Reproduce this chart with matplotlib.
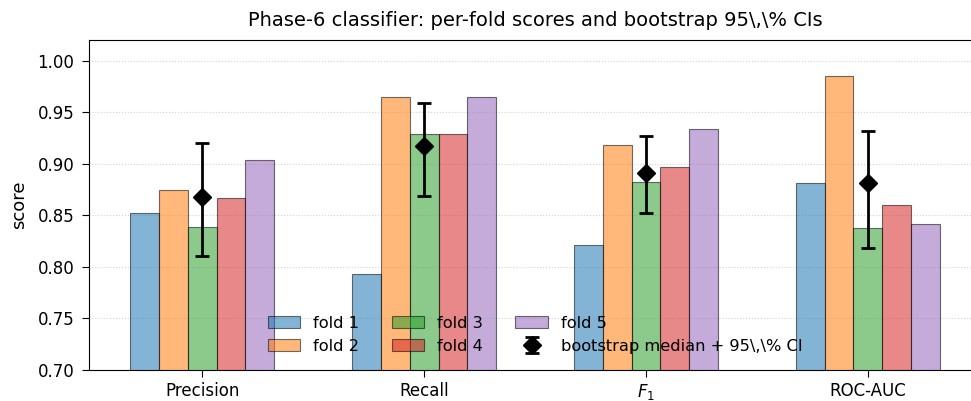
import numpy as np
import matplotlib.pyplot as plt

# ---------------------------------------------------------
# data
# ---------------------------------------------------------
METRICS = ["Precision", "Recall", r"$F_1$", "ROC-AUC"]
FOLD_NAMES = ["fold 1", "fold 2", "fold 3", "fold 4", "fold 5"]

fold1 = [0.852, 0.793, 0.821, 0.881]
fold2 = [0.875, 0.965, 0.918, 0.985]
fold3 = [0.839, 0.929, 0.882, 0.838]
fold4 = [0.867, 0.929, 0.897, 0.860]
fold5 = [0.904, 0.965, 0.934, 0.842]

boot_median = [0.868, 0.917, 0.891, 0.881]
boot_lo = [0.811, 0.869, 0.852, 0.818]
boot_hi = [0.920, 0.959, 0.927, 0.932]

FOLD_COLORS = ["tab:blue", "tab:orange", "tab:green", "tab:red", "tab:purple"]

# ---------------------------------------------------------
# plot
# ---------------------------------------------------------
fig = plt.figure(figsize=(9.71, 4.01), dpi=100)
ax = fig.add_axes([0.0917, 0.0773, 0.9186, 0.8229])

x = np.arange(len(METRICS))
width = 0.13
folds = [fold1, fold2, fold3, fold4, fold5]

for i, (vals, name, col) in enumerate(zip(folds, FOLD_NAMES, FOLD_COLORS)):
    ax.bar(x + (i - 2) * width, vals, width, label=name, color=col,
           alpha=0.55, edgecolor="black", linewidth=0.8)

med = np.array(boot_median)
yerr = np.vstack([med - np.array(boot_lo), np.array(boot_hi) - med])
ax.errorbar(x, med, yerr=yerr, fmt="D", color="black", markersize=9,
            capsize=5, elinewidth=2, capthick=2,
            label=r"bootstrap median + 95\,\% CI", zorder=5)

ax.set_xticks(x)
ax.set_xticklabels(METRICS, fontsize=12)
ax.set_xlim(-0.51, 3.51)
ax.set_ylim(0.70, 1.02)
ax.tick_params(axis="x", length=5, pad=3.5)
ax.tick_params(axis="y", length=5, pad=5.5, labelsize=12)
ax.set_ylabel("score", fontsize=13, labelpad=7)
ax.set_title(r"Phase-6 classifier: per-fold scores and bootstrap 95\,\% CIs",
             fontsize=14, pad=10)
ax.yaxis.grid(True, linestyle=":", color="lightgray", linewidth=0.8)
ax.set_axisbelow(True)

ax.legend(ncol=3, loc="lower center", bbox_to_anchor=(0.5, 0.005),
          frameon=False, fontsize=11.7, columnspacing=2.0)

fig.savefig("out.png", dpi=100)
